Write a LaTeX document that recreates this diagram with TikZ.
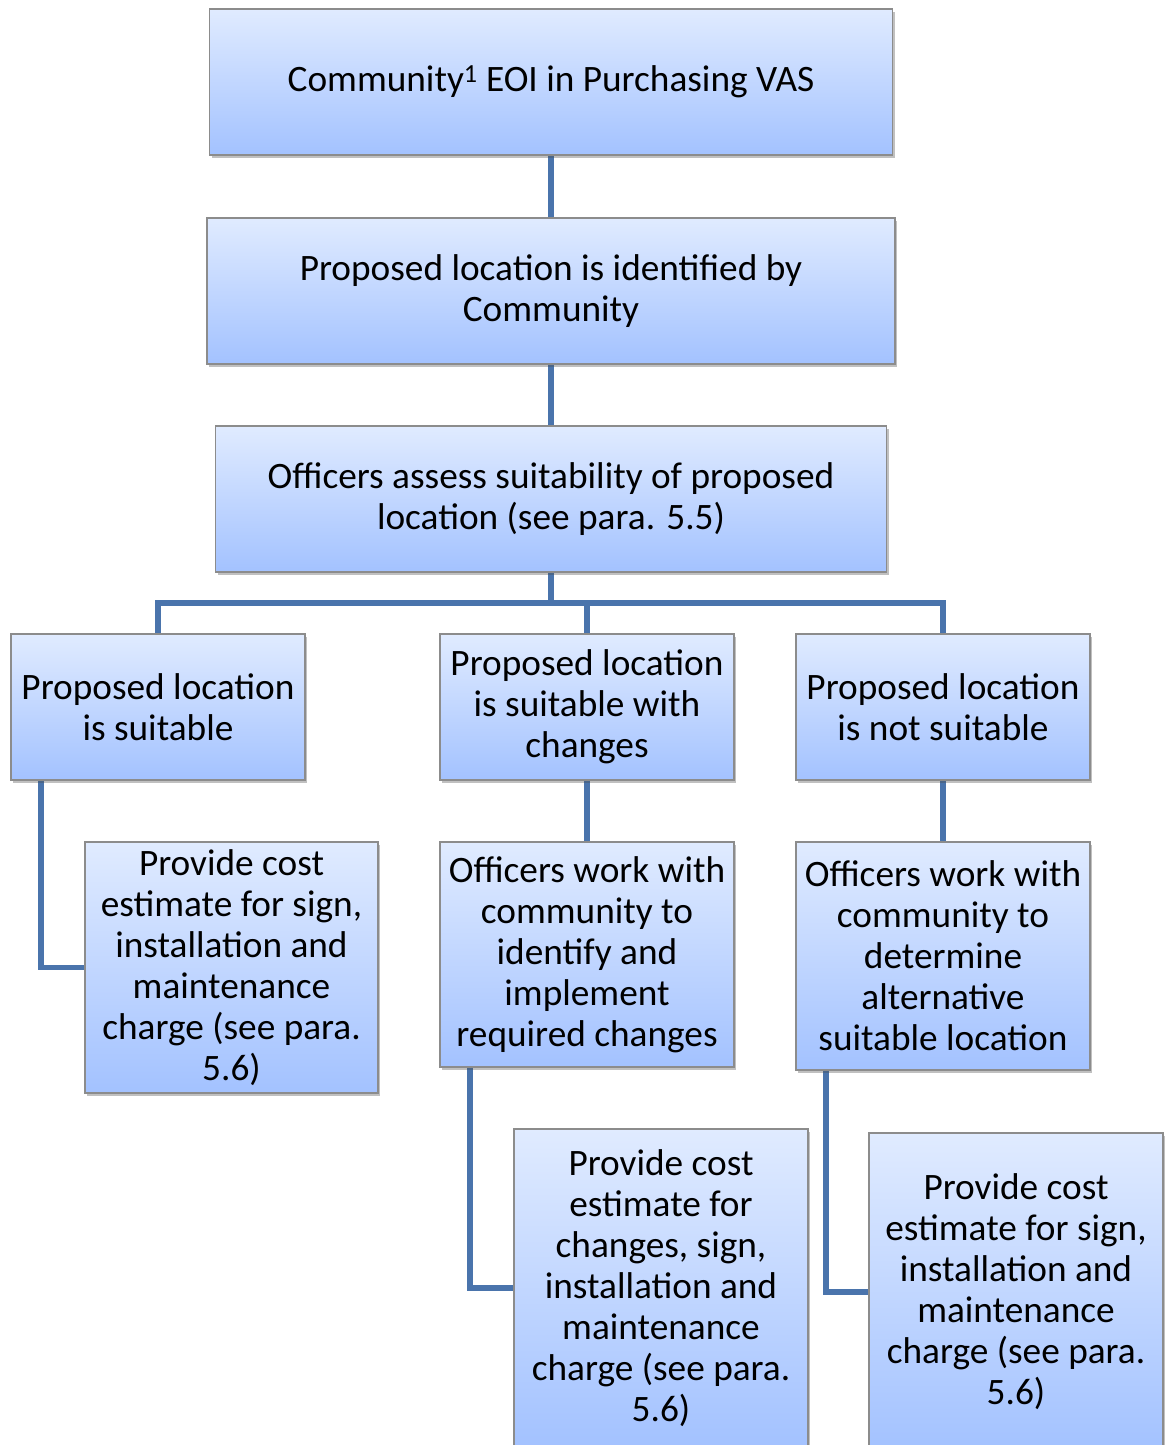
\documentclass[tikz,border=0pt]{standalone}
\usepackage{fontspec}
\setmainfont{Carlito}
\usetikzlibrary{shadows,backgrounds}
\definecolor{boxtop}{RGB}{224,235,255}
\definecolor{boxbot}{RGB}{163,194,255}
\definecolor{boxline}{RGB}{140,140,140}
\definecolor{connc}{RGB}{74,116,172}
\tikzset{
  box/.style={draw=boxline, line width=1.2pt, top color=boxtop, bottom color=boxbot,
    align=center, inner sep=0pt, font=\fontsize{37.3}{41}\selectfont,
    drop shadow={opacity=0.35, shadow xshift=2pt, shadow yshift=-3pt, fill=black!70}},
  conn/.style={draw=connc, line width=5.3pt}
}
\begin{document}
\begin{tikzpicture}[x=1pt,y=-1pt]
\useasboundingbox (0,0) rectangle (1167,1445);
\clip (0,0) rectangle (1167,1445);
\node[box, minimum width=683, minimum height=146] (n1) at (551,82) {Community\textsuperscript{1} EOI in Purchasing VAS};
\node[box, minimum width=688, minimum height=146] (n2) at (551,291) {Proposed location is identified by\\Community};
\node[box, minimum width=671, minimum height=146] (n3) at (551,499) {Officers assess suitability of proposed\\location (see para. 5.5)};
\node[box, minimum width=294, minimum height=146] (n4) at (158,707) {Proposed location\\is suitable};
\node[box, minimum width=294, minimum height=146] (n5) at (587,707) {Proposed location\\is suitable with\\changes};
\node[box, minimum width=294, minimum height=146] (n6) at (943,707) {Proposed location\\is not suitable};
\node[box, minimum width=293, minimum height=251] (n7) at (231.5,967.5) {Provide cost\\estimate for sign,\\installation and\\maintenance\\charge (see para.\\5.6)};
\node[box, minimum width=294, minimum height=225] (n8) at (587,954.5) {Officers work with\\community to\\identify and\\implement\\required changes};
\node[box, minimum width=294, minimum height=228] (n9) at (943,956) {Officers work with\\community to\\determine\\alternative\\suitable location};
\node[box, minimum width=294, minimum height=318] (n10) at (661,1288) {Provide cost\\estimate for\\changes, sign,\\installation and\\maintenance\\charge (see para.\\5.6)};
\node[box, minimum width=294, minimum height=318] (n11) at (1016,1292) {Provide cost\\estimate for sign,\\installation and\\maintenance\\charge (see para.\\5.6)};
\coordinate (bus) at (551,603);
\begin{scope}[on background layer]
\fill[white] (0,0) rectangle (1167,1445);
\draw[conn] (n1.south) -- (n2.north);
\draw[conn] (n2.south) -- (n3.north);
\draw[conn] (n3.south) -- (bus);
\draw[conn] (n4.north) |- (bus) -| (n6.north);
\draw[conn] (bus -| n5.north) -- (n5.north);
\draw[conn] ([xshift=-117pt]n4.south) |- (n7.west);
\draw[conn] (n5.south) -- (n8.north);
\draw[conn] (n6.south) -- (n9.north);
\draw[conn] ([xshift=-117pt]n8.south) |- (n10.west);
\draw[conn] ([xshift=-117pt]n9.south) |- (n11.west);
\end{scope}
\end{tikzpicture}
\end{document}
